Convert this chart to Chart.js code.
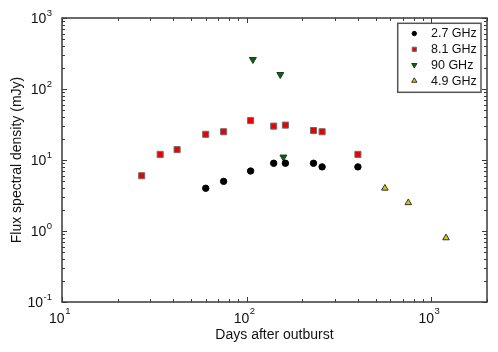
<!DOCTYPE html>
<html>
<head>
<meta charset="utf-8">
<script src="https://cdn.jsdelivr.net/npm/chart.js@4.4.0/dist/chart.umd.min.js"></script>
<style>
    html, body { margin: 0; padding: 0; background: #fff; }
    canvas { display: block; }
</style>
</head>
<body>
<canvas id="chartFlux" width="498" height="352"></canvas>
<script>
'use strict';

// data (days after outburst, flux in mJy)
const DAYS_2_7 = [60, 75, 105, 140, 162, 230, 256, 400];
const FLUX_2_7 = [4, 5, 7, 9, 9, 9, 8, 8];
const DAYS_8_1 = [27, 34, 42, 60, 75, 105, 140, 162, 230, 256, 400];
const FLUX_8_1 = [6, 12, 14, 23, 25, 36, 30, 31, 26, 25, 12];
const DAYS_90 = [108, 152, 158];
const FLUX_90 = [260, 160, 11];
const DAYS_4_9 = [560, 750, 1200];
const FLUX_4_9 = [4, 2.5, 0.8];

const SERIES_LABELS = ['2.7 GHz', '8.1 GHz', '90 GHz', '4.9 GHz'];
const X_TICKS = [10, 100, 1000];
const X_TICK_EXP = ['1', '2', '3'];
const Y_TICKS = [0.1, 1, 10, 100, 1000];
const Y_TICK_EXP = ['-1', '0', '1', '2', '3'];
const X_TITLE = 'Days after outburst';
const Y_TITLE = 'Flux spectral density (mJy)';

const FONT = '"Liberation Sans", Arial, sans-serif';
const AXIS_COLOR = '#3a3a3a';
const TEXT_COLOR = '#111';

function toPoints(xs, ys) {
    let ret = [];
    for (let i = 0; i < xs.length; i++) {
        ret.push({ x: xs[i], y: ys[i] });
    }
    return ret;
}

// 1..9 x 10^n inside the axis range
function logTickValues(min, max) {
    let vals = [];
    for (let e = Math.floor(Math.log10(min)); e <= Math.ceil(Math.log10(max)); e++) {
        for (let m = 1; m <= 9; m++) {
            let v = m * Math.pow(10, e);
            if (v >= min * 0.999 && v <= max * 1.001) {
                vals.push({ v: v, major: m === 1 });
            }
        }
    }
    return vals;
}

const styles = [
    { pointStyle: 'circle', bg: '#000', border: '#000', radius: 3.2, legendRadius: 2.2, rotation: 0 },
    { pointStyle: 'rect', bg: '#ee0000', border: '#6e6e6e', radius: 4.3, legendRadius: 3, rotation: 0 },
    { pointStyle: 'triangle', bg: '#0a640a', border: '#1e3a1e', radius: 4, legendRadius: 3, rotation: 180 },
    { pointStyle: 'triangle', bg: '#cccc00', border: '#333', radius: 3.8, legendRadius: 3, rotation: 0 }
];

const frameAndLabels = {
    id: 'frameAndLabels',
    afterDraw(chart) {
        const ctx = chart.ctx;
        const area = chart.chartArea;
        const sx = chart.scales.x;
        const sy = chart.scales.y;

        ctx.save();
        ctx.strokeStyle = AXIS_COLOR;
        ctx.lineWidth = 1.5;
        ctx.strokeRect(area.left, area.top, area.right - area.left, area.bottom - area.top);

        // inward ticks on all four sides
        ctx.lineWidth = 1;
        ctx.beginPath();
        logTickValues(sx.min, sx.max).forEach(t => {
            let px = Math.round(sx.getPixelForValue(t.v)) + 0.5;
            let len = t.major ? 5 : 3;
            ctx.moveTo(px, area.bottom); ctx.lineTo(px, area.bottom - len);
            ctx.moveTo(px, area.top); ctx.lineTo(px, area.top + len);
        });
        logTickValues(sy.min, sy.max).forEach(t => {
            let py = Math.round(sy.getPixelForValue(t.v)) + 0.5;
            let len = t.major ? 5 : 3;
            ctx.moveTo(area.left, py); ctx.lineTo(area.left + len, py);
            ctx.moveTo(area.right, py); ctx.lineTo(area.right - len, py);
        });
        ctx.stroke();

        ctx.fillStyle = TEXT_COLOR;
        ctx.textBaseline = 'alphabetic';
        ctx.textAlign = 'left';
        const baseFont = `14px ${FONT}`;
        const expFont = `9.5px ${FONT}`;

        // x tick labels
        for (let i = 0; i < X_TICKS.length; i++) {
            let px = sx.getPixelForValue(X_TICKS[i]);
            ctx.font = baseFont;
            let wBase = ctx.measureText('10').width;
            ctx.font = expFont;
            let wExp = ctx.measureText(X_TICK_EXP[i]).width;
            let x0 = px - 2.5 - (wBase + wExp) / 2;
            ctx.font = baseFont;
            ctx.fillText('10', x0, area.bottom + 20.7);
            ctx.font = expFont;
            ctx.fillText(X_TICK_EXP[i], x0 + wBase + 0.5, area.bottom + 12);
        }

        // y tick labels
        for (let i = 0; i < Y_TICKS.length; i++) {
            let py = sy.getPixelForValue(Y_TICKS[i]);
            ctx.font = expFont;
            let wExp = ctx.measureText(Y_TICK_EXP[i]).width;
            ctx.font = baseFont;
            let wBase = ctx.measureText('10').width;
            let xEnd = area.left - 10;
            ctx.fillText('10', xEnd - wExp - 0.5 - wBase, py + 5);
            ctx.font = expFont;
            ctx.fillText(Y_TICK_EXP[i], xEnd - wExp, py - 2.5);
        }

        // axis titles
        ctx.font = `14px ${FONT}`;
        ctx.textAlign = 'center';
        ctx.fillText(X_TITLE, (area.left + area.right) / 2, area.bottom + 36.5);
        ctx.save();
        ctx.translate(21, (area.top + area.bottom) / 2);
        ctx.rotate(-Math.PI / 2);
        ctx.fillText(Y_TITLE, 0, 0);
        ctx.restore();

        // legend box
        const box = { x: 397.7, y: 23.3, w: 83.3, h: 69 };
        const rows = [33.5, 49.3, 65, 80.8];
        ctx.fillStyle = '#fff';
        ctx.fillRect(box.x, box.y, box.w, box.h);
        ctx.strokeStyle = '#555';
        ctx.lineWidth = 1.5;
        ctx.strokeRect(box.x, box.y, box.w, box.h);
        ctx.font = `12.5px ${FONT}`;
        ctx.textAlign = 'left';
        ctx.textBaseline = 'middle';
        for (let i = 0; i < SERIES_LABELS.length; i++) {
            let st = styles[i];
            ctx.fillStyle = st.bg;
            ctx.strokeStyle = st.border;
            ctx.lineWidth = 1;
            Chart.helpers.drawPoint(ctx, {
                pointStyle: st.pointStyle,
                radius: st.legendRadius,
                rotation: st.rotation,
                borderWidth: 1
            }, 414.3, rows[i]);
            ctx.fillStyle = TEXT_COLOR;
            ctx.fillText(SERIES_LABELS[i], 431, rows[i] + 0.5);
        }
        ctx.restore();
    }
};

function makeDataset(i, xs, ys) {
    let st = styles[i];
    return {
        label: SERIES_LABELS[i],
        data: toPoints(xs, ys),
        pointStyle: st.pointStyle,
        pointRotation: st.rotation,
        pointRadius: st.radius,
        pointHoverRadius: st.radius,
        backgroundColor: st.bg,
        borderColor: st.border,
        borderWidth: 1,
        showLine: false
    };
}

new Chart(document.getElementById('chartFlux'), {
    type: 'scatter',
    data: {
        datasets: [
            makeDataset(0, DAYS_2_7, FLUX_2_7),
            makeDataset(1, DAYS_8_1, FLUX_8_1),
            makeDataset(2, DAYS_90, FLUX_90),
            makeDataset(3, DAYS_4_9, FLUX_4_9)
        ]
    },
    options: {
        responsive: false,
        animation: false,
        layout: { padding: { left: 62, top: 18, right: 11, bottom: 50 } },
        plugins: {
            legend: { display: false },
            tooltip: { enabled: false }
        },
        scales: {
            x: { type: 'logarithmic', display: false, min: 10, max: 2000 },
            y: { type: 'logarithmic', display: false, min: 0.1, max: 1000 }
        }
    },
    plugins: [frameAndLabels]
});
</script>
</body>
</html>
